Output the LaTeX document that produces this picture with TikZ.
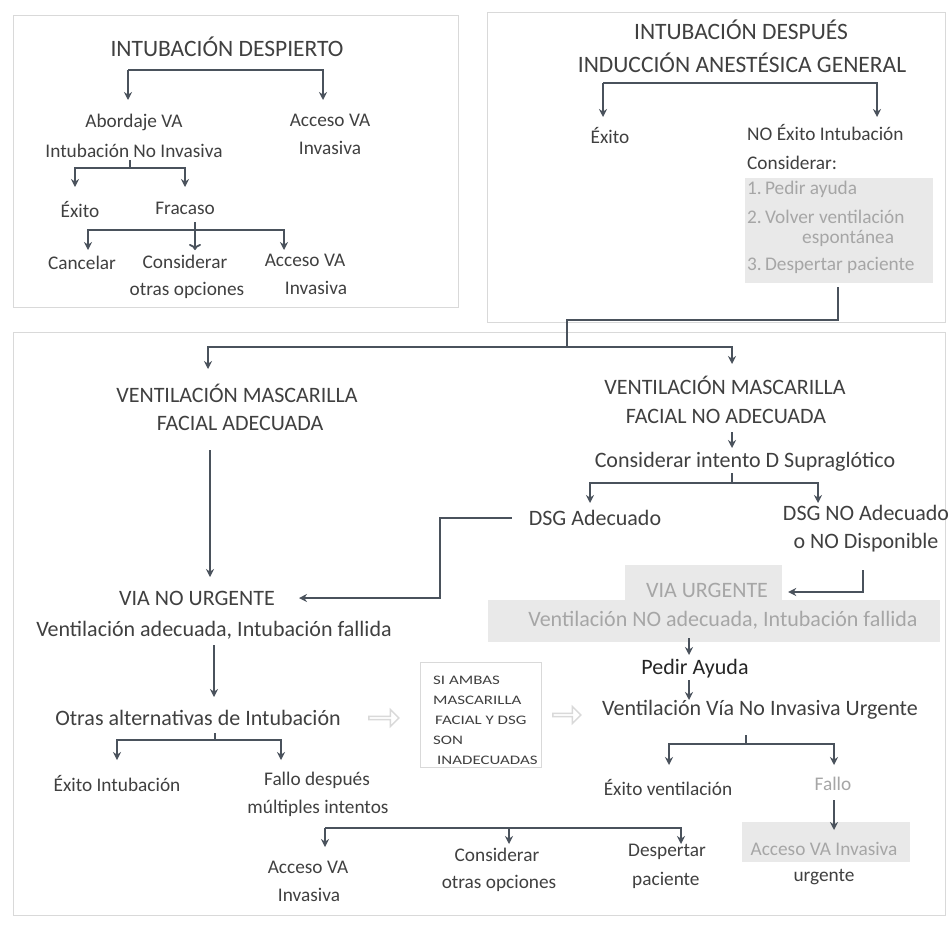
\documentclass[tikz,border=0pt]{standalone}
\usepackage{fontspec}
\setmainfont{Carlito}
\newfontfamily\widefont[FakeStretch=1.3]{Carlito}
\usetikzlibrary{arrows.meta,shapes.arrows}
\definecolor{ink}{HTML}{404040}
\definecolor{dark}{HTML}{252525}
\definecolor{lncol}{HTML}{4A525C}
\definecolor{faint}{HTML}{A6A6A6}
\definecolor{shade}{HTML}{E9E9E9}
\definecolor{frame}{HTML}{D9D9D9}
\begin{document}
\begin{tikzpicture}[x=1pt,y=-1pt,
 txt/.style={text=ink,inner sep=0pt,font=\fontsize{22}{24}\selectfont},
 ttl/.style={txt,font=\fontsize{23.5}{26}\selectfont},
 sm/.style={txt,font=\fontsize{19.3}{22}\selectfont},
 tiny/.style={txt,anchor=west,font=\widefont\fontsize{13}{15}\selectfont},
 gtxt/.style={txt,text=faint},
 gsm/.style={sm,text=faint},
 ln/.style={draw=lncol,line width=1.8pt},
 arr/.style={ln,-{Stealth[length=8pt,width=8pt]}},
 openarr/.style={ln,-{To[length=6pt,width=12pt]}},
 panel/.style={draw=frame,line width=1pt},
 graybox/.style={fill=shade,draw=none,inner sep=0pt},
 hollow/.style={single arrow,draw=frame,fill=white,minimum height=30pt,minimum width=17pt,
   single arrow head extend=3pt,inner sep=0pt,line width=1.4pt}
]
\useasboundingbox (0,0) rectangle (952,924);
\fill[white] (0,0) rectangle (952,924);

% panels
\draw[panel] (13,15) rectangle (458,307);
\draw[panel] (487,12) rectangle (945,322);
\draw[panel] (13,332) rectangle (945,915);

% ---------------- panel A ----------------
\node[ttl] (tA) at (227,47) {INTUBACIÓN DESPIERTO};
\node[sm] (a1) at (134,122) {Abordaje VA};
\node[sm] (a1b) at (134,151) {Intubación  No Invasiva};
\node[sm] (a2) at (330,120) {Acceso VA};
\node[sm] (a2b) at (330,148) {Invasiva};
\node[sm] (a3) at (80,210) {Éxito};
\node[sm] (a4) at (185,208) {Fracaso};
\node[sm] (a5) at (82,263) {Cancelar};
\node[sm] (a6) at (185,262) {Considerar};
\node[sm] (a6b) at (187,290) {otras opciones};
\node[sm] (a7) at (305,260) {Acceso VA};
\node[sm] (a7b) at (316,288) {Invasiva};

\coordinate (fA) at (128,70);
\draw[arr] (fA) -- ++(0,30);
\draw[arr] (fA) -| ++(195,30);
\coordinate (fB) at (130,168);
\draw[ln] (fB) -- ++(0,-8);
\draw[arr] (fB) -| ++(-55,19);
\draw[arr] (fB) -| ++(55,19);
\coordinate (fC) at (195,230);
\draw[openarr] (fC) ++(0,-8) -- ++(0,28);
\draw[arr] (fC) -| ++(-107,20);
\draw[arr] (fC) -| ++(89,20);

% ---------------- panel B ----------------
\node[ttl] (tB1) at (741,30) {INTUBACIÓN DESPUÉS};
\node[ttl] (tB2) at (742,63) {INDUCCIÓN ANESTÉSICA GENERAL};
\node[sm] (b1) at (610,136) {Éxito};
\node[sm,anchor=west] (b2) at (747,133) {NO Éxito Intubación};
\node[sm,anchor=west] (b3) at (747,163) {Considerar:};
\node[graybox,minimum width=188pt,minimum height=105pt,anchor=north west] (gl) at (745,178) {};
\node[gsm,anchor=west] (b4) at (747,189) {1.\,Pedir ayuda};
\node[gsm,anchor=west] (b5) at (747,217) {2.\,Volver ventilación};
\node[gsm,anchor=west] (b6) at (802,238) {espontánea};
\node[gsm,anchor=west] (b7) at (747,265) {3.\,Despertar paciente};

\coordinate (fD) at (603,83);
\draw[arr] (fD) -- ++(0,34);
\draw[arr] (fD) -| ++(274,34);

\coordinate (bendB) at (567,320);
\coordinate (fE) at (567,347);
\draw[ln] (gl.south -| 838,0) ++(0,4) |- (bendB) -- (fE);
\draw[arr] (fE) -| (208,369);
\draw[arr] (fE) -| (732,364);

% ---------------- panel C, left ----------------
\node[txt] (c1) at (237,393) {VENTILACIÓN MASCARILLA};
\node[txt] (c1b) at (240,423) {FACIAL ADECUADA};
\node[txt] (vnu) at (197,598) {VIA  NO  URGENTE};
\node[txt] (c2) at (214,630) {Ventilación adecuada, Intubación fallida};
\node[txt] (c3) at (198,718) {Otras alternativas de Intubación};
\node[sm] (c4) at (117,783) {Éxito Intubación};
\node[sm] (c5) at (317,780) {Fallo después};
\node[sm] (c5b) at (318,808) {múltiples intentos};
\node[sm] (c6) at (308,867) {Acceso VA};
\node[sm] (c6b) at (309,895) {Invasiva};
\node[sm] (c7) at (497,855) {Considerar};
\node[sm] (c7b) at (499,883) {otras opciones};
\node[sm] (c8) at (667,852) {Despertar};
\node[sm,anchor=west] (c8b) at (632,880) {paciente};

\coordinate (c1s) at (210,450);
\draw[arr] (c1s) -- ++(0,127);
\coordinate (c2s) at (214,645);
\draw[arr] (c2s) -- ++(0,52);
\coordinate (fF) at (215,740);
\draw[ln] (fF) -- ++(0,-7);
\draw[arr] (fF) -| ++(-98,20);
\draw[arr] (fF) -| ++(66,20);
\coordinate (fG) at (325,828);
\draw[arr] (fG) -- ++(0,19);
\draw[arr] (fG) -| ++(184,16);
\draw[arr] (fG) -| ++(356,16);

% middle box + hollow arrows
\draw[panel] (420,662) rectangle (541,767);
\node[tiny] (m1) at (433,680) {SI  AMBAS};
\node[tiny] (m2) at (433,700) {MASCARILLA};
\node[tiny] (m3) at (435,720) {FACIAL Y DSG};
\node[tiny] (m4) at (433,740) {SON};
\node[tiny] (m5) at (437,760) {INADECUADAS};
\node[hollow] (h1) at (383,718) {};
\node[hollow,minimum height=28pt] (h2) at (566,715) {};

% ---------------- panel C, right ----------------
\node[txt] (d1) at (725,385) {VENTILACIÓN MASCARILLA};
\node[txt] (d1b) at (726,416) {FACIAL NO ADECUADA};
\node[txt] (d2) at (745,462) {Considerar intento D Supraglótico};
\node[txt] (dsgA) at (595,518) {DSG Adecuado};
\node[txt] (dsgN) at (866,513) {DSG  NO Adecuado};
\node[txt] (dsgNb) at (866,543) {o NO Disponible};
\node[graybox,minimum width=157pt,minimum height=35pt] (gvu) at (703.5,582.5) {};
\node[gtxt] (vu) at (707,590) {VIA URGENTE};
\node[graybox,minimum width=452pt,minimum height=42pt] (gvn) at (714,621) {};
\node[gtxt] (vn) at (723,620) {Ventilación NO adecuada, Intubación fallida};
\node[txt,text=dark] (pa) at (695,669) {Pedir Ayuda};
\node[txt] (vv) at (760,710) {Ventilación Vía No Invasiva Urgente};
\node[sm] (ev) at (668,787) {Éxito ventilación};
\node[gsm] (fl) at (833,784) {Fallo};
\node[graybox,minimum width=168pt,minimum height=40pt] (gac) at (826,842) {};
\node[gsm] (ac) at (824,849) {Acceso VA Invasiva};
\node[sm] (ur) at (824,877) {urgente};

\coordinate (d1s) at (732,432);
\draw[arr] (d1s) -- ++(0,16);
\coordinate (fH) at (732,483);
\draw[ln] (fH) -- ++(0,-10);
\draw[arr] (fH) -| ++(-142,20);
\draw[arr] (fH) -| ++(86,20);
\coordinate (bendL) at (440,558);
\draw[arr] ([xshift=-17pt]dsgA.west) -| (bendL) |- ([xshift=24pt]vnu.east);
\coordinate (bendR) at (863,592);
\draw[arr] (bendR) ++(0,-22) -- (bendR) -- ([xshift=6pt]gvu.east |- bendR);
\coordinate (vns) at (689,638);
\draw[arr] (vns) -- ++(0,17);
\coordinate (pas) at (689,680);
\draw[arr] (pas) -- ++(0,20);
\coordinate (fI) at (746,744);
\draw[ln] (fI) -- ++(0,-9);
\draw[arr] (fI) -| ++(-77,21);
\draw[arr] (fI) -| ++(88,21);
\coordinate (fls) at (834,800);
\draw[arr] (fls) -- ++(0,30);
\end{tikzpicture}
\end{document}
